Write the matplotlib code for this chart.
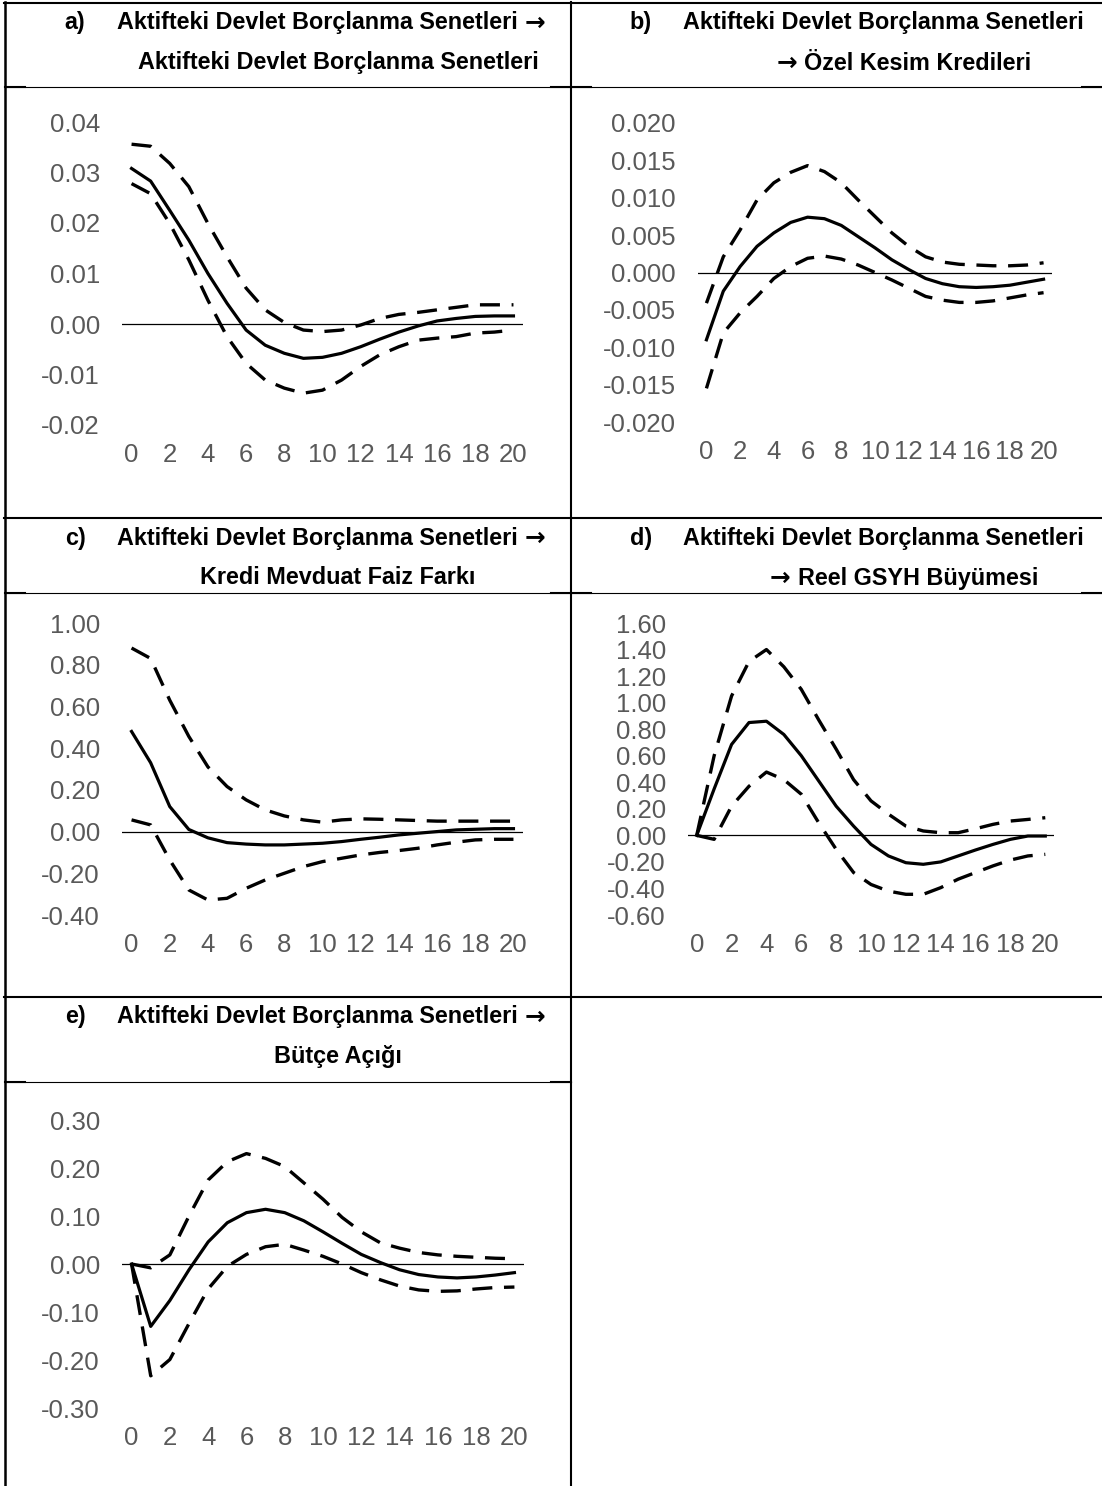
import matplotlib
matplotlib.use("Agg")
import matplotlib.pyplot as plt
from matplotlib.lines import Line2D
import numpy as np

W, H = 1102, 1486

periods = np.arange(21)

# a) -> Aktifteki Devlet Borclanma Senetleri
a_irf = [0.0308, 0.0283, 0.0225, 0.0166, 0.0100, 0.0041, -0.0012, -0.0042, -0.0058, -0.0068, -0.0066,
         -0.0058, -0.0045, -0.0030, -0.0016, -0.0004, 0.0006, 0.0011, 0.0015, 0.0016, 0.0016]
a_up = [0.0356, 0.0352, 0.0318, 0.0272, 0.0199, 0.0133, 0.0071, 0.0028, 0.0003, -0.0012, -0.0015,
        -0.0012, -0.0002, 0.0011, 0.0019, 0.0023, 0.0028, 0.0033, 0.0038, 0.0038, 0.0038]
a_lo = [0.0278, 0.0258, 0.0199, 0.0127, 0.0047, -0.0025, -0.0078, -0.0111, -0.0127, -0.0137, -0.0131,
        -0.0111, -0.0084, -0.0061, -0.0045, -0.0032, -0.0028, -0.0025, -0.0018, -0.0016, -0.0012]

# b) -> Ozel Kesim Kredileri
b_irf = [-0.0090, -0.0025, 0.0008, 0.0035, 0.0053, 0.0067, 0.0074, 0.0072, 0.0063, 0.0048, 0.0033,
         0.0017, 0.0004, -0.0008, -0.0015, -0.0019, -0.0020, -0.0019, -0.0017, -0.0013, -0.0009]
b_up = [-0.0041, 0.0021, 0.0057, 0.0097, 0.0120, 0.0134, 0.0143, 0.0135, 0.0120, 0.0097, 0.0075,
        0.0053, 0.0035, 0.0021, 0.0014, 0.0011, 0.0010, 0.0009, 0.0009, 0.0010, 0.0013]
b_lo = [-0.0155, -0.0081, -0.0054, -0.0032, -0.0008, 0.0008, 0.0019, 0.0022, 0.0018, 0.0010, 0.0000,
        -0.0010, -0.0021, -0.0032, -0.0037, -0.0040, -0.0040, -0.0038, -0.0034, -0.0030, -0.0027]

# c) -> Kredi Mevduat Faiz Farki
c_irf = [0.48, 0.33, 0.12, 0.01, -0.03, -0.053, -0.06, -0.064, -0.064, -0.06, -0.056,
         -0.048, -0.037, -0.027, -0.016, -0.008, 0.0, 0.008, 0.011, 0.014, 0.014]
c_up = [0.88, 0.83, 0.63, 0.456, 0.31, 0.216, 0.152, 0.104, 0.075, 0.056, 0.045,
        0.056, 0.061, 0.059, 0.056, 0.053, 0.05, 0.05, 0.05, 0.05, 0.05]
c_lo = [0.056, 0.032, -0.136, -0.28, -0.328, -0.32, -0.272, -0.232, -0.2, -0.168, -0.144,
        -0.128, -0.112, -0.10, -0.091, -0.08, -0.064, -0.051, -0.04, -0.037, -0.037]

# d) -> Reel GSYH Buyumesi
d_irf = [0.0, 0.35, 0.685, 0.85, 0.86, 0.76, 0.60, 0.41, 0.22, 0.07, -0.068,
         -0.155, -0.206, -0.218, -0.20, -0.155, -0.11, -0.068, -0.03, -0.005, -0.005]
d_up = [0.0, 0.60, 1.05, 1.31, 1.40, 1.27, 1.10, 0.87, 0.65, 0.42, 0.26,
        0.16, 0.07, 0.033, 0.02, 0.02, 0.05, 0.083, 0.108, 0.12, 0.133]
d_lo = [0.0, -0.03, 0.22, 0.37, 0.477, 0.42, 0.31, 0.095, -0.105, -0.28, -0.37,
        -0.42, -0.444, -0.444, -0.394, -0.33, -0.28, -0.23, -0.186, -0.155, -0.143]

# e) -> Butce Acigi
e_irf = [0.0, -0.13, -0.076, -0.012, 0.046, 0.086, 0.107, 0.114, 0.107, 0.09, 0.067,
         0.043, 0.02, 0.003, -0.012, -0.022, -0.027, -0.029, -0.027, -0.023, -0.018]
e_up = [0.0, -0.008, 0.019, 0.10, 0.175, 0.213, 0.23, 0.22, 0.203, 0.169, 0.135,
        0.097, 0.067, 0.044, 0.033, 0.024, 0.019, 0.016, 0.014, 0.012, 0.011]
e_lo = [0.0, -0.233, -0.199, -0.124, -0.052, -0.005, 0.02, 0.036, 0.041, 0.029, 0.016,
        0.0, -0.018, -0.033, -0.046, -0.054, -0.057, -0.056, -0.052, -0.049, -0.048]

ARROW = "→"
src = "Aktifteki Devlet Borçlanma Senetleri"
titles = [
    ("a)", [src, ARROW], [src]),
    ("b)", [src], [ARROW, "Özel Kesim Kredileri"]),
    ("c)", [src, ARROW], ["Kredi Mevduat Faiz Farkı"]),
    ("d)", [src], [ARROW, "Reel GSYH Büyümesi"]),
    ("e)", [src, ARROW], ["Bütçe Açığı"]),
]

yticks = [
    (np.arange(-0.02, 0.041, 0.01), "{:.2f}"),
    (np.arange(-0.020, 0.0201, 0.005), "{:.3f}"),
    (np.arange(-0.40, 1.001, 0.20), "{:.2f}"),
    (np.arange(-0.60, 1.601, 0.20), "{:.2f}"),
    (np.arange(-0.30, 0.301, 0.10), "{:.2f}"),
]

series = [(a_irf, a_up, a_lo), (b_irf, b_up, b_lo), (c_irf, c_up, c_lo),
          (d_irf, d_up, d_lo), (e_irf, e_up, e_lo)]

# plot boxes in pixels: left, top, right, bottom (x: -0.5..20.5)
boxes = [
    (122, 122, 523, 425),
    (698, 123, 1052, 422),
    (122, 623, 523, 915),
    (688, 623, 1054, 915),
    (122, 1120, 524, 1408),
]

# header rows: top, bottom
headers = [(3, 87), (518, 593), (997, 1082)]
col_left = [5, 571]

plt.rcParams['font.family'] = ['Liberation Sans', 'DejaVu Sans']

fig = plt.figure(figsize=(W / 100, H / 100), dpi=100)
renderer = fig.canvas.get_renderer()


def fx(x):
    return x / W


def fy(y):
    return 1 - y / H


def hline(y, x0, x1, lw=1.5):
    fig.add_artist(Line2D([fx(x0), fx(x1)], [fy(y), fy(y)], color='black', lw=lw))


def vline(x, y0, y1, lw=1.5):
    fig.add_artist(Line2D([fx(x), fx(x)], [fy(y0), fy(y1)], color='black', lw=lw))


def thin_rule(y, x0, x1):
    # thin cell border with the heavier stubs Word leaves near the verticals
    hline(y, x0, x1, lw=0.8)
    hline(y, x0, x0 + 20, lw=1.5)
    hline(y, x1 - 20, x1, lw=1.5)


HFS = 16.8
txt_kw = dict(fontsize=HFS, fontweight='bold', family=['Liberation Sans'])
arr_kw = dict(fontsize=HFS + 1, fontweight='bold', family=['DejaVu Sans'])


def width(s, kw):
    t = fig.text(0, 0, s, **kw)
    w = t.get_window_extent(renderer).width
    t.remove()
    return w


def header_line(parts, x, y, align):
    kws = [arr_kw if p == ARROW else txt_kw for p in parts]
    gap = 7
    ws = [width(p, k) for p, k in zip(parts, kws)]
    total = sum(ws) + gap * (len(parts) - 1)
    xs = x if align == 'left' else x - total / 2
    for p, k, w in zip(parts, kws, ws):
        fig.text(fx(xs), fy(y), p, ha='left', va='center', **k)
        xs += w + gap


# table grid
vline(5, 2, H, lw=1.8)
vline(571, 2, H)
hline(3, 4, 1102)
hline(518, 4, 1102)
hline(997, 4, 1102)
for y in (87, 593):
    thin_rule(y, 5, 571)
    thin_rule(y, 571, 1102)
thin_rule(1082, 5, 571)

# header texts
for i, (lab, l1, l2) in enumerate(titles):
    row = headers[i // 2]
    cl = col_left[i % 2]
    y1 = row[0] + 20
    y2 = row[0] + 60
    fig.text(fx(cl + 70), fy(y1), lab, ha='center', va='center', **txt_kw)
    header_line(l1, cl + 112, y1, 'left')
    header_line(l2, cl + 333, y2, 'center')

# charts
dash = (0, (6, 3.5))
for i, (irf, up, lo) in enumerate(series):
    l, t, r, b = boxes[i]
    ax = fig.add_axes([fx(l), fy(b), (r - l) / W, (b - t) / H])
    ax.patch.set_alpha(0)
    ax.plot(periods, up, color='black', lw=2.4, ls=dash)
    ax.plot(periods, lo, color='black', lw=2.4, ls=dash)
    ax.plot(periods, irf, color='black', lw=2.3, solid_joinstyle='round')
    ax.axhline(0, color='black', lw=0.9)
    ticks, fmt = yticks[i]
    ax.set_ylim(ticks[0], ticks[-1])
    ax.set_xlim(-0.5, 20.5)
    ax.set_yticks(ticks)
    ax.set_yticklabels([fmt.format(v) if abs(v) > 1e-9 else fmt.format(0.0) for v in ticks])
    ax.set_xticks(np.arange(0, 21, 2))
    ax.tick_params(length=0, labelsize=18.5, labelcolor='#595959')
    ax.tick_params(axis='x', pad=13)
    ax.tick_params(axis='y', pad=16)
    for s in ax.spines.values():
        s.set_visible(False)

fig.savefig('out.png', dpi=100)
